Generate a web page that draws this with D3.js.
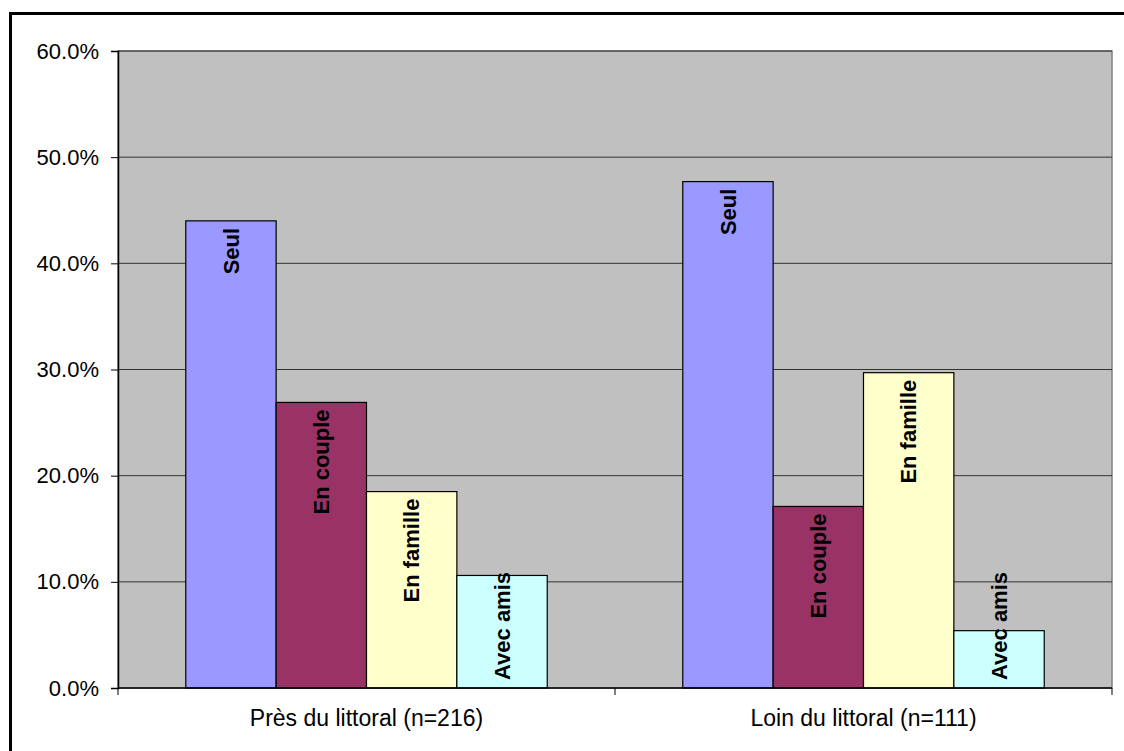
<!DOCTYPE html>
<html>
<head>
<meta charset="utf-8">
<script src="https://cdn.jsdelivr.net/npm/d3@7"></script>
<style>
  body { margin: 0; background: #fff; }
  svg { display: block; font-family: "Liberation Sans", Arial, sans-serif; }
</style>
</head>
<body>
<svg id="chart" width="1124" height="751"></svg>
<script>
// data
const groups = ["Près du littoral (n=216)", "Loin du littoral (n=111)"];
const series = ["Seul", "En couple", "En famille", "Avec amis"];
const seriesColors = ["#9999ff", "#993366", "#ffffcc", "#ccffff"];
const valuesPres = [0.440, 0.269, 0.185, 0.106];
const valuesLoin = [0.477, 0.171, 0.297, 0.054];
const yTicks = [0, 0.1, 0.2, 0.3, 0.4, 0.5, 0.6];

const rows = [valuesPres, valuesLoin];

const svg = d3.select("#chart");
const plotLeft = 118, plotTop = 51, plotRight = 1112, plotBottom = 688;

// outer frame (cut off on right and bottom like the original)
svg.append("rect")
    .attr("x", 10.5).attr("y", 13.5)
    .attr("width", 1130).attr("height", 760)
    .attr("fill", "none")
    .attr("stroke", "#000")
    .attr("stroke-width", 3);

const x0 = d3.scaleBand().domain(groups).range([plotLeft, plotRight]).paddingInner(0).paddingOuter(0);
const barW = x0.bandwidth() / 5.5;
const x1 = d3.scaleBand().domain(series).range([0, barW * 4]);
const y = d3.scaleLinear().domain([0, 0.6]).range([plotBottom, plotTop]);

// plot area
svg.append("rect")
    .attr("x", plotLeft).attr("y", plotTop)
    .attr("width", plotRight - plotLeft).attr("height", plotBottom - plotTop)
    .attr("fill", "#c0c0c0")
    .attr("stroke", "#808080")
    .attr("stroke-width", 1.5);

// gridlines
svg.append("g")
    .selectAll("line")
    .data(yTicks.slice(1))
    .join("line")
    .attr("x1", plotLeft).attr("x2", plotRight)
    .attr("y1", d => y(d)).attr("y2", d => y(d))
    .attr("stroke", "#333")
    .attr("stroke-width", 1);

// y axis
const yAxis = svg.append("g")
    .attr("transform", `translate(${plotLeft},0)`)
    .call(d3.axisLeft(y).tickValues(yTicks).tickFormat(d3.format(".1%")).tickSize(7).tickPadding(12));
yAxis.select(".domain").attr("stroke", "#000").attr("stroke-width", 1.5);
yAxis.selectAll(".tick line").attr("stroke", "#000");
yAxis.selectAll("text").attr("font-size", 22).attr("fill", "#000")
    .attr("font-family", "Liberation Sans, Arial, sans-serif");

// bars
const g = svg.append("g")
    .selectAll("g")
    .data(groups)
    .join("g")
    .attr("transform", d => `translate(${x0(d) + barW * 0.75},0)`);

const bars = g.selectAll("g.bar")
    .data((d, i) => series.map((s, j) => ({ s, j, v: rows[i][j] })))
    .join("g")
    .attr("class", "bar");

bars.append("rect")
    .attr("x", d => x1(d.s))
    .attr("y", d => y(d.v))
    .attr("width", x1.bandwidth())
    .attr("height", d => plotBottom - y(d.v))
    .attr("fill", d => seriesColors[d.j])
    .attr("stroke", "#000")
    .attr("stroke-width", 1.2);

// vertical labels inside bars
bars.append("text")
    .attr("font-size", 22)
    .attr("font-weight", "bold")
    .attr("fill", "#000")
    .attr("dy", "0.35em")
    .text(d => d.s)
    .each(function (d) {
        const len = this.getComputedTextLength();
        const cx = x1(d.s) + x1.bandwidth() / 2;
        const startY = Math.min(y(d.v) + 7 + len, plotBottom - 8);
        d3.select(this)
            .attr("text-anchor", "start")
            .attr("transform", `translate(${cx},${startY}) rotate(-90)`);
    });

// x axis
svg.append("line")
    .attr("x1", plotLeft).attr("x2", plotRight)
    .attr("y1", plotBottom).attr("y2", plotBottom)
    .attr("stroke", "#000").attr("stroke-width", 1.5);
svg.append("g")
    .selectAll("line")
    .data([plotLeft, x0(groups[1]), plotRight])
    .join("line")
    .attr("x1", d => d).attr("x2", d => d)
    .attr("y1", plotBottom).attr("y2", plotBottom + 7)
    .attr("stroke", "#000");

svg.append("g")
    .selectAll("text")
    .data(groups)
    .join("text")
    .attr("x", d => x0(d) + x0.bandwidth() / 2)
    .attr("y", 726)
    .attr("text-anchor", "middle")
    .attr("font-size", 23)
    .attr("fill", "#000")
    .text(d => d);
</script>
</body>
</html>
